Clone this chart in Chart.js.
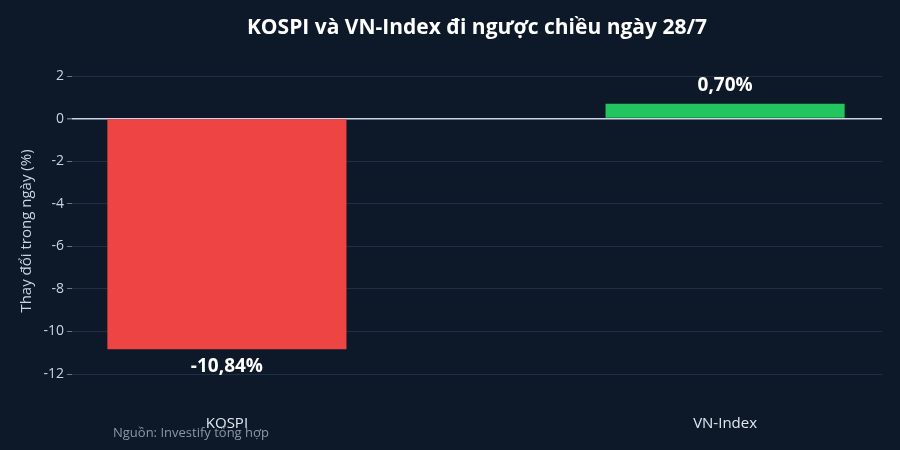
<!DOCTYPE html>
<html>
<head>
<meta charset="utf-8">
<script src="https://cdn.jsdelivr.net/npm/chart.js@4"></script>
<style>
  html, body { margin: 0; padding: 0; background: #0d1828; }
  #wrap { width: 900px; height: 450px; position: relative; }
</style>
</head>
<body>
<div id="wrap"><canvas id="myChart"></canvas></div>
<script>
// data
var categories = ["KOSPI", "VN-Index"];
var changes = [-10.84, 0.70];
var labelsText = ["-10,84%", "0,70%"];
var barColors = ["#ef4444", "#22c55e"];

var titleText = "KOSPI và VN-Index đi ngược chiều ngày 28/7";
var yTitle = "Thay đổi trong ngày (%)";
var sourceText = "Nguồn: Investify tổng hợp";

var FONT = "'Open Sans', 'Noto Sans', sans-serif";

// title, axis title, value labels and source note
var extras = {
  id: "extras",
  afterDatasetsDraw: function (chart) {
    var ctx = chart.ctx;
    var area = chart.chartArea;
    ctx.save();
    ctx.fillStyle = "#ffffff";
    ctx.textAlign = "center";
    ctx.textBaseline = "middle";
    ctx.font = "bold 21px " + FONT;
    ctx.fillText(titleText, (area.left + area.right) / 2, 28);

    ctx.font = "bold 19px " + FONT;
    var meta = chart.getDatasetMeta(0);
    meta.data.forEach(function (bar, i) {
      var v = changes[i];
      var y = v < 0 ? bar.y + 17 : bar.y - 18;
      ctx.fillText(labelsText[i], bar.x, y);
    });

    ctx.save();
    ctx.translate(27, (area.top + area.bottom) / 2);
    ctx.rotate(-Math.PI / 2);
    ctx.font = "15px " + FONT;
    ctx.fillStyle = "#cbd5e1";
    ctx.fillText(yTitle, 0, 0);
    ctx.restore();

    ctx.font = "13px " + FONT;
    ctx.fillStyle = "#8b97a8";
    ctx.textAlign = "left";
    ctx.fillText(sourceText, 113, 433);
    ctx.restore();
  }
};

var data = {
  datasets: [{
    data: categories.map(function (c, i) { return { x: i, y: changes[i] }; }),
    backgroundColor: barColors,
    borderWidth: 0,
    barPercentage: 0.48,
    categoryPercentage: 1.0
  }]
};

var myChart = new Chart("myChart", {
  type: "bar",
  data: data,
  plugins: [extras],
  options: {
    responsive: true,
    maintainAspectRatio: false,
    animation: false,
    layout: { padding: { top: 62, right: 18, bottom: 0, left: 0 } },
    plugins: {
      legend: { display: false },
      tooltip: { enabled: false },
      title: { display: false }
    },
    scales: {
      x: {
        type: "linear",
        offset: false,
        min: -0.311,
        max: 1.315,
        grid: { display: false, offset: false },
        border: { display: false },
        afterBuildTicks: function (scale) {
          scale.ticks = categories.map(function (c, i) { return { value: i }; });
        },
        afterFit: function (scale) { scale.height = 50; },
        ticks: {
          padding: 7,
          color: "#e2e8f0",
          font: { family: FONT, size: 15 },
          callback: function (v) { return categories[v]; }
        }
      },
      y: {
        min: -13.22,
        max: 2.66,
        afterFit: function (scale) { scale.width = 72; },
        border: { display: false },
        grid: {
          color: function (c) { return c.tick && c.tick.value === 0 ? "#cbd5e1" : "#222e42"; },
          lineWidth: function (c) { return c.tick && c.tick.value === 0 ? 1.5 : 1; },
          tickColor: "#6b7789",
          tickLength: 5
        },
        ticks: {
          stepSize: 2,
          includeBounds: false,
          padding: 3,
          color: "#cbd5e1",
          font: { family: FONT, size: 14 }
        }
      }
    }
  }
});
</script>
</body>
</html>
